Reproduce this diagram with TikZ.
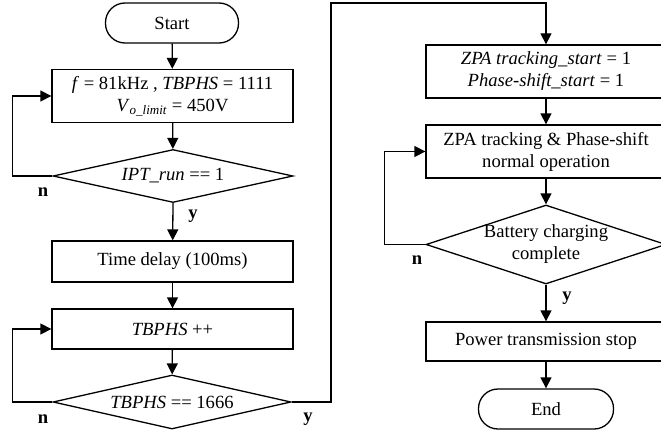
\documentclass[tikz,border=0pt]{standalone}
\usepackage{fontspec}
\setmainfont{Liberation Serif}
\usetikzlibrary{arrows.meta,shapes.geometric}
\begin{document}
\begin{tikzpicture}[x=1pt,y=-1pt,
  every node/.style={font=\fontsize{18.6}{22}\selectfont},
  line/.style={line width=1.3pt},
  arr/.style={line width=1.3pt, -{Triangle[length=11pt,width=11pt]}},
  box/.style={draw, line width=1.3pt, inner sep=0pt, align=center},
  term/.style={box, rounded corners=19.5pt},
  diam/.style={draw, diamond, line width=1.3pt, inner sep=0pt},
  lab/.style={font=\fontsize{18.6}{22}\selectfont\bfseries, inner sep=0pt}]
\useasboundingbox (0,0) rectangle (661,436);

% left column
\node[term, minimum width=133pt, minimum height=40pt] (start) at (172,23) {Start};
\node[box, minimum width=241pt, minimum height=53pt] (b1) at (172.5,96)
  {\textit{f} = 81kHz , \textit{TBPHS} = 1111\\\textit{V}\textsubscript{\textit{o\_limit}} = 450V};
\node[diam, minimum width=240pt, minimum height=53pt] (d1) at (173,176) {};
\node (t1) at (d1.center) {\textit{IPT\_run} == 1};
\node[box, minimum width=241pt, minimum height=41pt] (b2) at (172.5,261.5) {Time delay (100ms)};
\node[box, minimum width=241pt, minimum height=40pt] (b3) at (172.5,329) {\textit{TBPHS} ++};
\node[diam, minimum width=238pt, minimum height=54pt] (d2) at (172,402) {};
\node (t2) at (d2.center) {\textit{TBPHS} == 1666};

% right column
\node[box, minimum width=240pt, minimum height=53pt] (b4) at (546,71.5)
  {\textit{ZPA tracking\_start} = 1\\\textit{Phase-shift\_start} = 1};
\node[box, minimum width=240pt, minimum height=53pt] (b5) at (546,151.5)
  {ZPA tracking \& Phase-shift\\normal operation};
\node[diam, minimum width=240pt, minimum height=79pt] (d3) at (546,244.5) {};
\node[align=center] (t3) at (d3.center) {Battery charging\\complete};
\node[box, minimum width=240pt, minimum height=39pt] (b6) at (546,341.5) {Power transmission stop};
\node[term, minimum width=135pt, minimum height=40pt] (end) at (546,409) {End};

% connectors
\draw[arr] (start) -- (b1);
\draw[arr] (b1) -- (d1);
\draw[arr] (d1.south) -- (b2);
\draw[arr] (d1.west) -- ++(-40,0) |- (b1.west);
\draw[arr] (b2) -- (b3);
\draw[arr] (b3) -- (d2);
\draw[arr] (d2.west) -- ++(-40,0) |- (b3.west);
\coordinate (top) at (331,3);
\draw[arr] (d2.east) -| (top) -| (b4.north);
\draw[arr] (b4) -- (b5);
\draw[arr] (b5) -- (d3);
\draw[arr] (d3.west) -- ++(-41,0) |- (b5.west);
\draw[arr] (d3.south) -- (b6);
\draw[arr] (b6) -- (end);

% labels
\node[lab] (n1) at (43,192) {n};
\node[lab] (y1) at (193,216) {y};
\node[lab] (n2) at (43,419) {n};
\node[lab] (y2) at (308,419) {y};
\node[lab] (n3) at (417,260) {n};
\node[lab] (y3) at (567,298) {y};
\end{tikzpicture}
\end{document}
